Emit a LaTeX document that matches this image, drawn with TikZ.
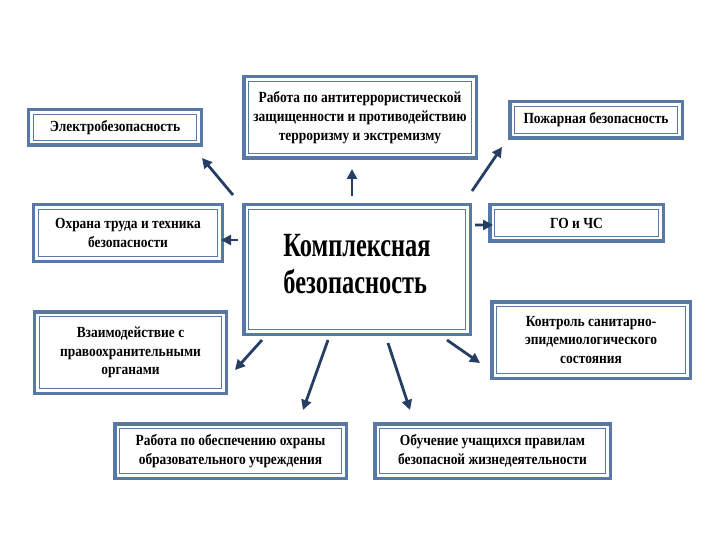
\documentclass[tikz,border=0pt]{standalone}
\usepackage{fontspec}
\setmainfont{Liberation Serif}
\newfontfamily\boxf[FakeStretch=0.87]{Liberation Serif}
\newfontfamily\bigf[FakeStretch=0.72]{Liberation Serif}
\usetikzlibrary{arrows.meta}
\definecolor{bcol}{RGB}{88,120,165}
\definecolor{acol}{RGB}{38,62,100}
\tikzset{
  bx/.style={draw=bcol, line width=3.5bp, fill=white, align=center, inner sep=0pt,
    font=\boxf\bfseries\fontsize{15.5}{18.8}\selectfont},
  innerln/.style={draw=bcol, line width=1.2bp},
  arr/.style={draw=acol, line width=2.8bp, -{Triangle[length=10bp,width=10bp]}}
}
\newcommand\bbox[6]{%
  \node[bx, minimum width=#4bp-3.5bp, minimum height=#5bp-3.5bp] (#1) at (#2,#3) {#6};
  \draw[innerln] ([shift={(6.2,6.2)}]#1.north west) rectangle ([shift={(-6.2,-6.2)}]#1.south east);
}
\begin{document}
\begin{tikzpicture}[x=1bp,y=-1bp]
\useasboundingbox[fill=white] (0,0) rectangle (720,540);
\bbox{e1}{115}{127.5}{176}{39}{Электробезопасность}
\bbox{e2}{360}{117.5}{236}{85}{Работа по антитеррористической\\защищенности и противодействию\\терроризму и экстремизму}
\bbox{e3}{596}{120}{176}{40}{Пожарная безопасность}
\bbox{c}{357}{269.5}{230}{133}{}
\node[align=left, font=\bigf\bfseries\fontsize{34}{37}\selectfont] (ct) at ([yshift=5bp]c.center) {Комплексная\\безопасность};
\bbox{e4}{576.5}{223}{177}{40}{ГО и ЧС}
\bbox{e5}{591}{340}{202}{80}{Контроль санитарно-\\эпидемиологического\\состояния}
\bbox{e6}{128}{233}{192}{60}{Охрана труда и техника\\безопасности}
\bbox{e7}{130.5}{352.5}{195}{85}{Взаимодействие с\\правоохранительными\\органами}
\bbox{e8}{230.5}{451}{235}{58}{Работа по обеспечению охраны\\образовательного учреждения}
\bbox{e9}{492.5}{451}{239}{58}{Обучение учащихся правилам\\безопасной жизнедеятельности}
\draw[arr] ([shift={(-9,-8)}]c.north west) -- ([shift={(-1,11)}]e1.south east);
\draw[arr] ([shift={(-5,-7)}]c.north) -- ([shift={(-8,9)}]e2.south);
\draw[arr] ([shift={(0,-12)}]c.north east) -- ([shift={(-6,7)}]e3.south west);
\draw[arr] ([shift={(-4,-29.5)}]c.west) -- ([shift={(-3,7)}]e6.east);
\draw[arr] ([shift={(3,22)}]c.north east) -- ([shift={(5,2)}]e4.west);
\draw[arr] ([shift={(20,4)}]c.south west) -- ([shift={(7,17.5)}]e7.east);
\draw[arr] ([shift={(-29,4)}]c.south) -- ([shift={(72.5,-12)}]e8.north);
\draw[arr] ([shift={(31,7)}]c.south) -- ([shift={(-82.5,-12)}]e9.north);
\draw[arr] ([shift={(-25,4)}]c.south east) -- ([shift={(-10,23)}]e5.west);
\end{tikzpicture}
\end{document}
